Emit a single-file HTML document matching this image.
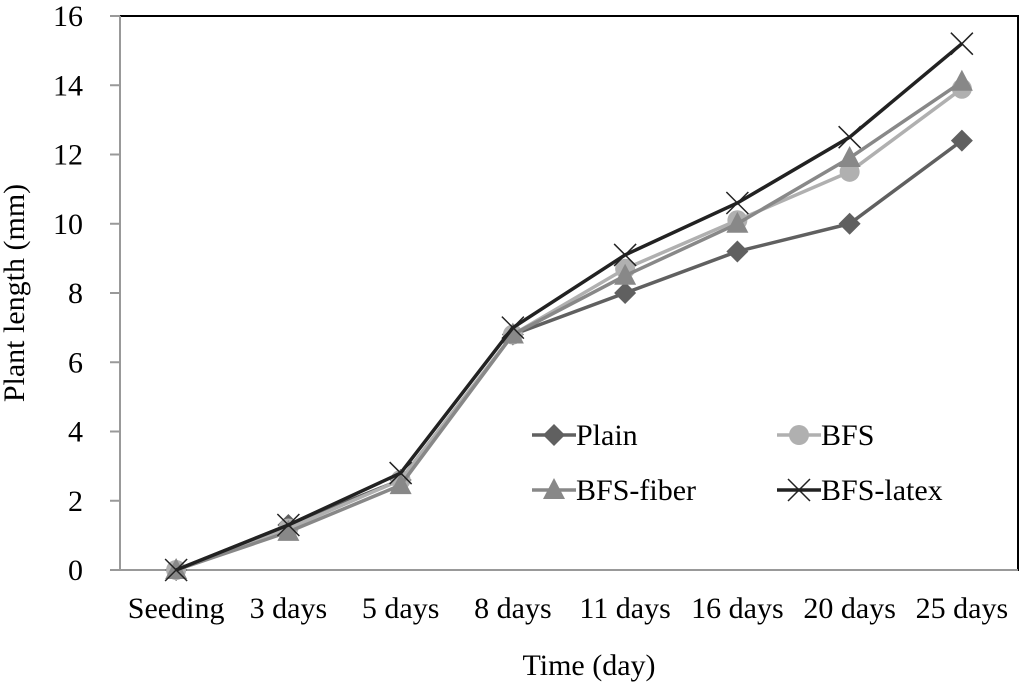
<!DOCTYPE html>
<html><head><meta charset="utf-8"><style>
body{margin:0;background:#fff}
svg text{font-family:"Liberation Serif",serif;fill:#000}
</style></head><body>
<svg width="1024" height="688" id="c">
<rect x="120" y="16" width="898" height="554" fill="none" stroke="#000" stroke-width="2"/>
<text x="24" y="293" font-size="30" text-anchor="middle" transform="rotate(-90 24 293)">Plant length (mm)</text>
<text x="589" y="675" font-size="30" text-anchor="middle">Time (day)</text>
</svg>
<script>
const categories=["Seeding","3 days","5 days","8 days","11 days","16 days","20 days","25 days"];
const yTicks=[0,2,4,6,8,10,12,14,16];
const plain=[0,1.3,2.6,6.8,8.0,9.2,10.0,12.4];
const bfs=[0,1.2,2.6,6.8,8.7,10.1,11.5,13.9];
const bfsFiber=[0,1.1,2.45,6.8,8.5,10.0,11.9,14.1];
const bfsLatex=[0,1.3,2.8,7.0,9.1,10.6,12.5,15.2];
const svg=document.getElementById('c');const NS="http://www.w3.org/2000/svg";
const L=120,R=1018,T=16,B=570;
const x=i=>L+(R-L)/categories.length*(i+0.5);
const y=v=>B-(v/16)*(B-T);
function mk(t,a,p){const e=document.createElementNS(NS,t);for(const k in a)e.setAttribute(k,a[k]);(p||svg).appendChild(e);return e;}
let ax=mk('line',{x1:L,y1:T,x2:L,y2:B,stroke:'#999','stroke-width':2});


let bx=mk('line',{x1:L-10,y1:B,x2:R,y2:B,stroke:'#999','stroke-width':2});


yTicks.forEach(v=>{
 let t=mk('line',{x1:L-10,y1:y(v),x2:L,y2:y(v),stroke:'#999','stroke-width':2});
 
 
 let l=mk('text',{x:L-37,y:y(v)+10,'font-size':30,'text-anchor':'end'});l.textContent=v;
 
 
});
categories.forEach((c,i)=>{
 let l=mk('text',{x:x(i),y:618,'font-size':30,'text-anchor':'middle'});l.textContent=c;
 
 
});
function marker(type,cx,cy,col,g){
 if(type==='diamond')return mk('polygon',{points:`${cx},${cy-11} ${cx+11},${cy} ${cx},${cy+11} ${cx-11},${cy}`,fill:col},g);
 if(type==='circle')return mk('circle',{cx,cy,r:10,fill:col},g);
 if(type==='tri')return mk('polygon',{points:`${cx},${cy-12} ${cx+11},${cy+9} ${cx-11},${cy+9}`,fill:col},g);
 return mk('path',{d:`M${cx-11},${cy-11}L${cx+11},${cy+11}M${cx+11},${cy-11}L${cx-11},${cy+11}`,stroke:col,'stroke-width':1.5,fill:'none'},g);
}
const series=[
 {name:'Plain',data:plain,col:'#606060',m:'diamond',lx:540,ly:435},
 {name:'BFS',data:bfs,col:'#b0b0b0',m:'circle',lx:785,ly:435},
 {name:'BFS-fiber',data:bfsFiber,col:'#888',m:'tri',lx:540,ly:490},
 {name:'BFS-latex',data:bfsLatex,col:'#222',m:'x',lx:785,ly:490}];
series.forEach(s=>{
 const g=mk('g',{});
 
 
 const p=mk('polyline',{points:s.data.map((v,i)=>x(i)+','+y(v)).join(' '),fill:'none',stroke:s.col,'stroke-width':3.5},g);
 
 
 s.data.forEach((v,i)=>{const m=marker(s.m,x(i),y(v),s.col,g);
  
  });
 const lg=mk('g',{});
 
 
 mk('line',{x1:s.lx-8,y1:s.ly,x2:s.lx+36,y2:s.ly,stroke:s.col,'stroke-width':3.5},lg);
 marker(s.m,s.lx+14,s.ly,s.col,lg);
 const t=mk('text',{x:s.lx+36,y:s.ly+10,'font-size':30},lg);t.textContent=s.name;
});
</script>
</body></html>
